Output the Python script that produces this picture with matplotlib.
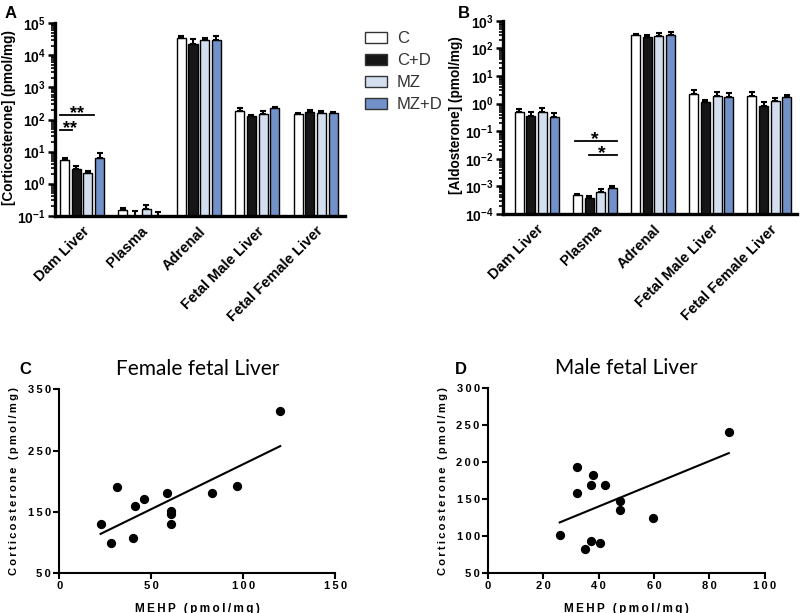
import numpy as np
import matplotlib
matplotlib.use("Agg")
import matplotlib.pyplot as plt
from matplotlib.patches import Patch
from matplotlib.ticker import LogLocator, FixedLocator, NullFormatter

plt.rcParams['font.family'] = ['Liberation Sans', 'DejaVu Sans']
plt.rcParams['mathtext.fontset'] = 'custom'
plt.rcParams['mathtext.rm'] = 'Liberation Sans:bold'
plt.rcParams['mathtext.bf'] = 'Liberation Sans:bold'

# ---------------------------------------------------------------- data
tissues = ["Dam Liver", "Plasma", "Adrenal", "Fetal Male Liver", "Fetal Female Liver"]
groups = ["C", "C+D", "MZ", "MZ+D"]
colors = ["#ffffff", "#161616", "#d3deef", "#7191c8"]

# corticosterone (pmol/mg), one list per group, one value per tissue
cort_C    = [5.6, 0.155, 34000, 190, 146]
cort_CD   = [2.8, 0.09, 23000, 126, 176]
cort_MZ   = [2.1, 0.16, 30000, 150, 164]
cort_MZD  = [6.3, 0.09, 30000, 222, 156]
cort_err_C   = [0.6, 0.02, 6000, 35, 15]
cort_err_CD  = [0.7, 0.05, 9000, 8, 25]
cort_err_MZ  = [0.3, 0.05, 6000, 30, 25]
cort_err_MZD = [3.0, 0.04, 9000, 30, 12]

# aldosterone (pmol/mg)
aldo_C    = [0.50, 4.7e-4, 297, 2.3, 1.9]
aldo_CD   = [0.37, 3.9e-4, 270, 1.1, 0.82]
aldo_MZ   = [0.51, 6.3e-4, 275, 1.9, 1.25]
aldo_MZD  = [0.32, 8.5e-4, 297, 1.8, 1.7]
aldo_err_C   = [0.15, 0.6e-4, 35, 0.7, 0.7]
aldo_err_CD  = [0.13, 0.4e-4, 30, 0.3, 0.3]
aldo_err_MZ  = [0.19, 1.5e-4, 100, 0.7, 0.35]
aldo_err_MZD = [0.13, 1.5e-4, 110, 0.6, 0.3]

# MEHP vs corticosterone scatter
fem_mehp = [22.5, 28.1, 31.2, 41.2, 39.9, 46.3, 58.8, 60.6, 60.6, 60.6, 83.1, 96.5, 120.1]
fem_cort = [130, 100, 190, 159, 108, 171, 180, 152, 146, 131, 180, 192, 314]
male_mehp = [25.9, 32.3, 32.3, 34.9, 37.2, 37.8, 37.2, 40.4, 42.4, 47.6, 47.6, 59.6, 87.0]
male_cort = [101, 194, 158, 82, 169, 182, 93, 91, 169, 147, 135, 125, 240]

THIN = '\u2009'


def spaced(s):
    # letter-spaced text like the original figure
    return THIN.join(s)


# ---------------------------------------------------------------- figure
fig = plt.figure(figsize=(8, 6.13), dpi=100)
axA = fig.add_axes([0.069, 0.648, 0.362, 0.314])
axB = fig.add_axes([0.629, 0.651, 0.367, 0.315])
axC = fig.add_axes([0.074, 0.065, 0.345, 0.300])
axD = fig.add_axes([0.610, 0.065, 0.346, 0.302])


def bar_panel(ax, series, errs, ylo, yhi, ylabel, xlim):
    ax.set_yscale('log')
    x = np.arange(len(tissues))
    step, w = 0.2, 0.155
    for j, (vals, err) in enumerate(zip(series, errs)):
        xs = x + (j - 1.5) * step
        ax.bar(xs, vals, width=w, color=colors[j], edgecolor='black', linewidth=1.0, zorder=2)
        ax.errorbar(xs, vals, yerr=[np.zeros(len(vals)), err], fmt='none', ecolor='black',
                    elinewidth=1.5, capsize=2.5, capthick=1.5, zorder=3)
    ax.set_ylim(ylo, yhi)
    ax.set_xlim(*xlim)
    for s in ['top', 'right']:
        ax.spines[s].set_visible(False)
    ax.spines['left'].set_linewidth(2.4)
    ax.spines['bottom'].set_linewidth(2.4)
    ax.yaxis.set_major_locator(LogLocator(base=10, numticks=20))
    ax.yaxis.set_minor_locator(LogLocator(base=10, subs=np.arange(2, 10), numticks=20))
    ax.yaxis.set_minor_formatter(NullFormatter())
    ax.yaxis.set_major_formatter(plt.FuncFormatter(lambda v, p: r'$\mathbf{10^{%d}}$' % round(np.log10(v))))
    ax.tick_params(axis='y', which='major', length=5, width=1.8, labelsize=10, pad=2)
    ax.tick_params(axis='y', which='minor', length=3, width=1.2)
    ax.tick_params(axis='x', length=0, pad=6)
    ax.set_xticks(x)
    ax.set_xticklabels(tissues, rotation=45, ha='right', rotation_mode='anchor',
                       fontsize=10.5, fontweight='bold')
    ax.set_ylabel(ylabel, fontsize=9.8, fontweight='bold')
    ax.yaxis.set_label_coords(-0.137, 0.51)


bar_panel(axA, [cort_C, cort_CD, cort_MZ, cort_MZD],
          [cort_err_C, cort_err_CD, cort_err_MZ, cort_err_MZD],
          1e-1, 1e5, "[Corticosterone] (pmol/mg)", (-0.46, 4.5))
bar_panel(axB, [aldo_C, aldo_CD, aldo_MZ, aldo_MZD],
          [aldo_err_C, aldo_err_CD, aldo_err_MZ, aldo_err_MZD],
          1e-4, 1e3, "[Aldosterone] (pmol/mg)", (-0.575, 4.47))


def sig(ax, x0, x1, y, xs, stars, size):
    ax.plot([x0, x1], [y, y], color='black', lw=1.3, clip_on=False)
    ax.annotate(stars, (xs, y), xytext=(0, -5), textcoords='offset points',
                ha='center', va='bottom', fontsize=size, fontweight='bold')


sig(axA, -0.37, 0.2, 139, -0.09, "**", 13)
sig(axA, -0.37, -0.17, 48, -0.2, "**", 13)
sig(axB, 0.66, 1.38, 0.043, 1.0, "*", 14)
sig(axB, 0.9, 1.38, 0.014, 1.12, "*", 14)

# legend
handles = [Patch(facecolor=c, edgecolor='#333333', linewidth=1.0) for c in colors]
fig.legend(handles, groups, loc='upper left', bbox_to_anchor=(0.446, 0.963), frameon=False,
           fontsize=12, handlelength=1.3, handleheight=0.62, labelspacing=0.42,
           handletextpad=0.6, borderpad=0, labelcolor='#333333')


def scatter_panel(ax, xv, yv, xticks, yticks, title):
    ax.scatter(xv, yv, s=32, color='black', zorder=3)
    k, b = np.polyfit(xv, yv, 1)
    xx = np.array([min(xv), max(xv)])
    ax.plot(xx, k * xx + b, color='black', lw=1.5)
    ax.set_xlim(xticks[0], xticks[-1])
    ax.set_ylim(yticks[0], yticks[-1])
    ax.xaxis.set_major_locator(FixedLocator(xticks))
    ax.yaxis.set_major_locator(FixedLocator(yticks))
    ax.set_xticklabels([spaced(str(t)) for t in xticks])
    ax.set_yticklabels([spaced(str(t)) for t in yticks])
    for s in ['top', 'right']:
        ax.spines[s].set_visible(False)
    for s in ['left', 'bottom']:
        ax.spines[s].set_linewidth(1.5)
    ax.tick_params(length=4, width=1.5, labelsize=8, pad=2)
    for lab in ax.get_xticklabels() + ax.get_yticklabels():
        lab.set_fontweight('bold')
    ax.set_xlabel(spaced("MEHP (pmol/mg)"), fontsize=8.5, fontweight='bold', labelpad=8)
    ax.set_ylabel(spaced("Corticosterone (pmol/mg)"), fontsize=8, fontweight='bold', labelpad=6)
    ax.set_title(title, fontsize=15, family=['Lato', 'DejaVu Sans'], pad=10)


scatter_panel(axC, fem_mehp, fem_cort, [0, 50, 100, 150], [50, 150, 250, 350], "Female fetal Liver")
scatter_panel(axD, male_mehp, male_cort, [0, 20, 40, 60, 80, 100], [50, 100, 150, 200, 250, 300],
              "Male fetal Liver")

# panel letters
for lbl, x, y in [("A", 0.006, 0.99), ("B", 0.572, 0.99), ("C", 0.024, 0.41), ("D", 0.568, 0.41)]:
    fig.text(x, y, lbl, fontsize=12, fontweight='bold', va='top')

fig.savefig("out.png", dpi=100)
